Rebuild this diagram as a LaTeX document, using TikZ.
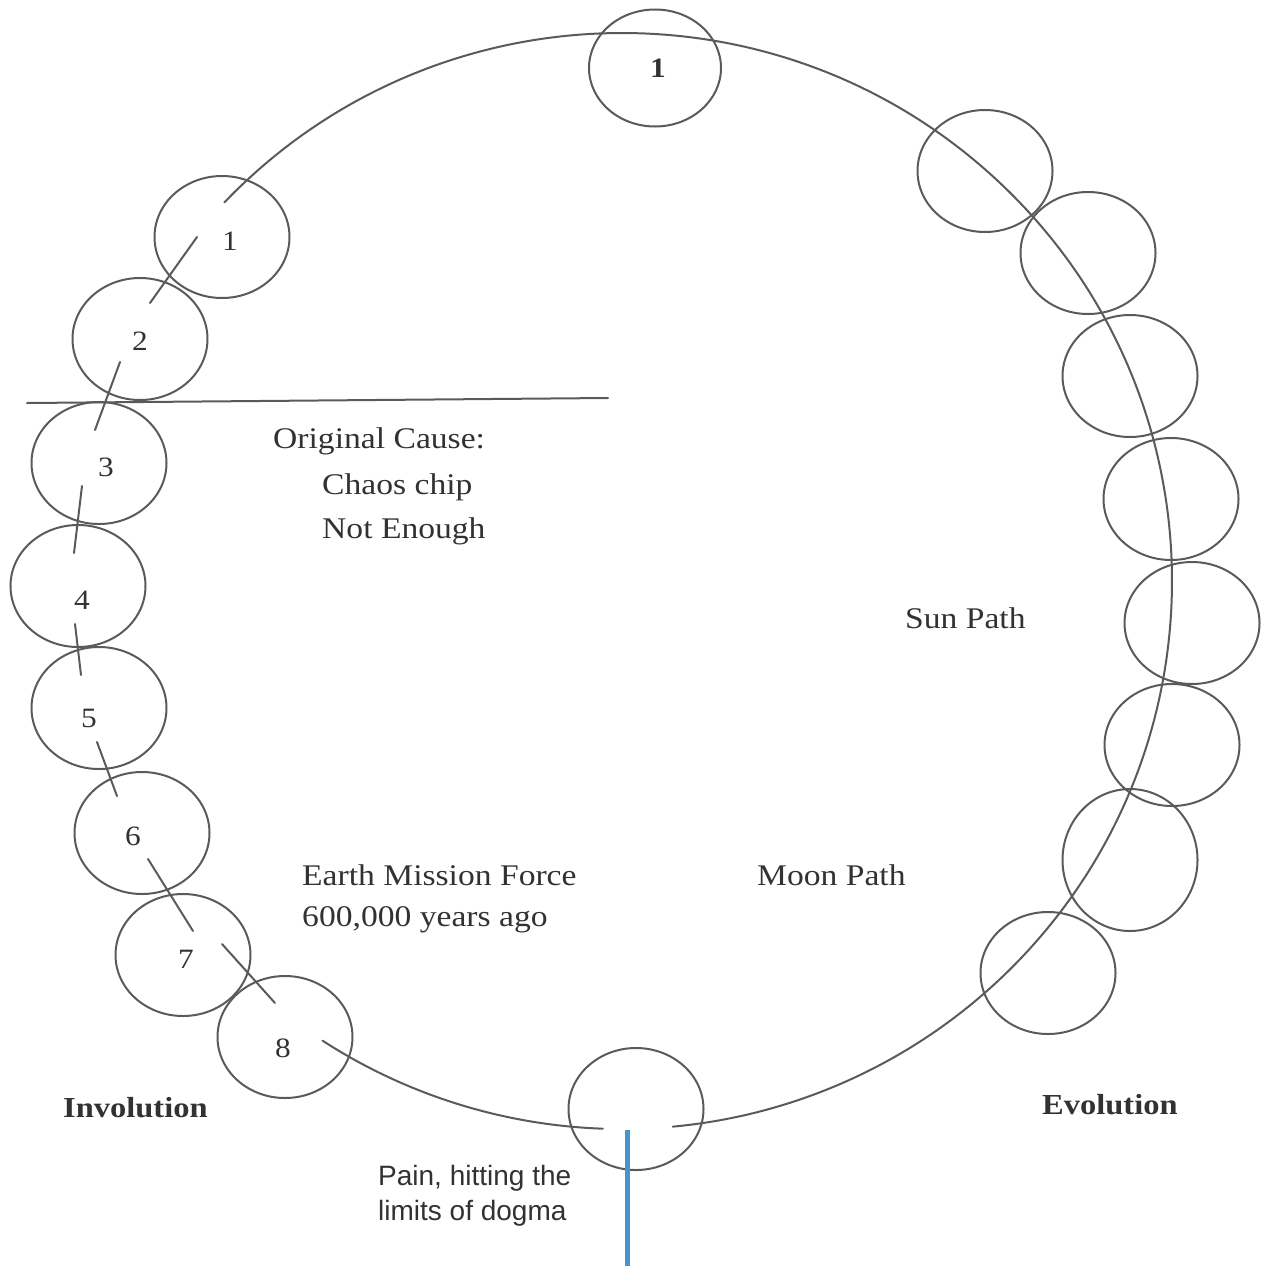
\documentclass[tikz,border=0pt]{standalone}
\usepackage{fontspec}
\setmainfont{Liberation Serif}[FakeStretch=1.12]
\setsansfont{Liberation Sans}
\usetikzlibrary{shapes.geometric}
\definecolor{ink}{RGB}{90,90,90}
\definecolor{txt}{RGB}{50,50,50}
\definecolor{painblue}{RGB}{70,150,205}
\begin{document}
\begin{tikzpicture}[x=1pt,y=-1pt,
  orb/.style={ellipse,draw=ink,line width=2pt,minimum width=135pt,minimum height=122pt,inner sep=0pt},
  pathline/.style={draw=ink,line width=2pt,line cap=round},
  digit/.style={text=txt,font=\fontsize{28}{30}\selectfont,inner sep=0pt},
  lbl/.style={text=txt,font=\fontsize{30}{36}\selectfont,anchor=base west,inner sep=0pt},
  boldlbl/.style={text=txt,font=\fontsize{29}{34}\selectfont\bfseries,anchor=base west,inner sep=0pt},
  painlbl/.style={text=txt,font=\sffamily\fontsize{28}{32}\selectfont,anchor=base west,inner sep=0pt}]
\useasboundingbox (0,0) rectangle (1268,1266);

% top circle
\node[orb,minimum width=132pt,minimum height=117pt] (T) at (655,68) {};
\node[digit,font=\fontsize{28}{30}\selectfont\bfseries] (dT) at (658,68) {1};

% right circles
\node[orb] (R1) at (985,171) {};
\node[orb] (R2) at (1088,253) {};
\node[orb] (R3) at (1130,376) {};
\node[orb] (R4) at (1171,499) {};
\node[orb] (R5) at (1192,623) {};
\node[orb] (R6) at (1172,745) {};
\node[orb,minimum height=142pt] (R7) at (1130,860) {};
\node[orb] (R8) at (1048,973) {};

% bottom circle
\node[orb] (B) at (636,1109) {};

% left circles
\node[orb] (L1) at (222,237) {};
\node[orb] (L2) at (140,339) {};
\node[orb] (L3) at (99,463) {};
\node[orb] (L4) at (78,586) {};
\node[orb] (L5) at (99,708) {};
\node[orb] (L6) at (142,833) {};
\node[orb] (L7) at (183,955) {};
\node[orb] (L8) at (285,1037) {};

\node[digit] (d1) at (230,241) {1};
\node[digit] (d2) at (140,341) {2};
\node[digit] (d3) at (106,467) {3};
\node[digit] (d4) at (82,600) {4};
\node[digit] (d5) at (89,718) {5};
\node[digit] (d6) at (133,836) {6};
\node[digit] (d7) at (186,959) {7};
\node[digit] (d8) at (283,1048) {8};

% big path
\coordinate (C) at (622,581);
\path (C) ++(223.7:550 and 548) coordinate (arcA);
\path (C) ++(123:550 and 548) coordinate (arcL);
\draw[pathline] (arcA) arc[start angle=223.7,end angle=444.7,x radius=550,y radius=548];
\draw[pathline] (arcL) arc[start angle=123,end angle=92,x radius=550,y radius=548];

% broken segments on the left
\coordinate (s1a) at (197,237); \coordinate (s1b) at (150,303);
\coordinate (s2a) at (120,362); \coordinate (s2b) at (95,430);
\coordinate (s3a) at (82,486);  \coordinate (s3b) at (74,553);
\coordinate (s4a) at (75,624);  \coordinate (s4b) at (81,675);
\coordinate (s5a) at (97,742);  \coordinate (s5b) at (117,796);
\coordinate (s6a) at (148,859); \coordinate (s6b) at (193,931);
\coordinate (s7a) at (222,944); \coordinate (s7b) at (275,1003);
\draw[pathline] (s1a) -- (s1b);
\draw[pathline] (s2a) -- (s2b);
\draw[pathline] (s3a) -- (s3b);
\draw[pathline] (s4a) -- (s4b);
\draw[pathline] (s5a) -- (s5b);
\draw[pathline] (s6a) -- (s6b);
\draw[pathline] (s7a) -- (s7b);

% horizontal line
\coordinate (h1) at (27,403);
\coordinate (h2) at (608,398);
\draw[pathline] (h1) -- (h2);

% blue line
\coordinate (p1) at (627,1130);
\coordinate (p2) at (627,1266);
\draw[draw=painblue,line width=5pt] (p1) -- (p2);

% labels
\node[lbl] (oc) at (273,448) {Original Cause:};
\node[lbl] (cc) at (322,494) {Chaos chip};
\node[lbl] (ne) at (322,538) {Not Enough};
\node[lbl] (em) at (302,885) {Earth Mission Force};
\node[lbl] (ya) at (302,926) {600,000 years ago};
\node[lbl] (sp) at (905,628) {Sun Path};
\node[lbl] (mp) at (757,885) {Moon Path};
\node[boldlbl] (inv) at (63,1117) {Involution};
\node[boldlbl] (evo) at (1042,1114) {Evolution};
\node[painlbl] (pa) at (378,1185) {Pain, hitting the};
\node[painlbl] (pb) at (378,1220) {limits of dogma};
\end{tikzpicture}
\end{document}
